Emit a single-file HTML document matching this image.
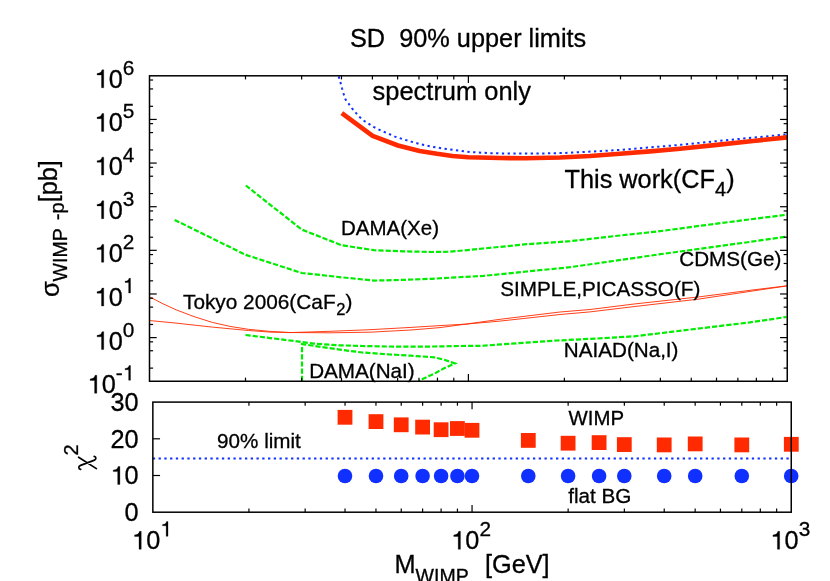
<!DOCTYPE html>
<html><head><meta charset="utf-8"><title>SD 90% upper limits</title>
<style>html,body{margin:0;padding:0;background:#fff;}text{stroke:#000;stroke-width:0.3px;}body{width:830px;height:581px;overflow:hidden;position:relative;font-family:"Liberation Sans",sans-serif;}</style></head>
<body>
<svg width="830" height="581" viewBox="0 0 830 581" style="position:absolute;left:0;top:0;will-change:transform">
<rect width="830" height="581" fill="#fff"/>
<g font-family="Liberation Sans, sans-serif" fill="#000">
<polyline points="338.7,76.5 340.5,82.6 342.0,88.3 343.6,93.8 345.3,99.1 348.8,103.9 352.1,108.4 355.7,112.7 359.6,117.0 364.0,120.8 368.9,123.9 373.5,126.8 380.6,130.4 387.8,133.5 395.0,136.6 402.3,139.0 411.0,141.6 419.6,144.0 431.2,146.6 442.8,148.4 450.0,149.4 470.0,152.0 488.7,153.1 500.0,153.4 520.0,153.6 536.0,153.6 560.0,153.1 572.0,152.6 608.0,150.7 620.0,149.9 644.6,147.9 680.7,144.8 717.0,141.1 753.0,137.6 787.3,134.4" fill="none" stroke="#1030ff" stroke-width="2" stroke-dasharray="2.3 3.46"/>
<polyline points="341.8,113.1 372.6,135.9 398.0,145.5 419.6,150.9 437.0,153.8 452.5,156.0 468.2,157.2 500.0,158.0 525.3,158.3 560.0,157.5 590.0,156.0 620.0,153.8 650.0,151.4 680.0,148.8 716.8,144.9 753.0,141.0 787.3,137.4" fill="none" stroke="#ff2a00" stroke-width="4.6" stroke-linejoin="round"/>
<polyline points="245.8,185.5 301.8,229.6 341.5,245.2 374.0,250.2 403.0,251.3 432.0,252.0 450.0,251.7 483.4,248.5 526.7,244.2 570.1,241.2 613.5,236.2 656.8,231.6 700.2,225.8 743.6,220.2 787.0,214.7" fill="none" stroke="#00ec00" stroke-width="2.2" stroke-dasharray="5.2 2"/>
<polyline points="174.6,219.9 245.8,254.9 301.8,273.0 341.5,277.3 374.0,280.6 403.0,279.9 432.0,278.8 450.0,277.7 483.4,275.9 526.7,271.5 570.0,267.2 613.5,261.0 656.8,254.7 700.2,248.7 743.6,242.8 787.0,236.6" fill="none" stroke="#00ec00" stroke-width="2.2" stroke-dasharray="5.2 2"/>
<polyline points="245.5,335.0 290.0,340.5 314.0,343.6 338.0,345.3 362.0,346.0 386.4,346.5 410.5,346.7 434.6,346.5 458.7,346.0 480.0,345.9 518.6,343.2 557.1,340.5 595.6,338.6 634.2,336.3 672.8,331.7 711.3,327.0 749.9,322.4 786.5,317.0" fill="none" stroke="#00ec00" stroke-width="2.2" stroke-dasharray="5.2 2"/>
<polyline points="302.0,381.0 302.0,344.1 338.2,349.4 362.3,352.5 386.4,354.2 410.5,355.7 434.6,357.3 444.2,359.8 455.0,363.4 444.2,368.2 434.6,373.5 422.5,379.0 419.0,381.0" fill="none" stroke="#00ec00" stroke-width="2.2" stroke-dasharray="5.2 2"/>
<polyline points="150.1,297.1 163.0,303.8 176.1,309.8 194.0,316.6 212.3,322.4 230.0,326.4 248.4,329.3 270.0,331.4 290.0,332.5 330.0,332.8 370.0,332.2 411.0,330.0 440.0,327.6 466.0,324.1 500.0,319.3 560.0,312.0 590.0,309.5 634.0,304.0 698.0,297.0 754.0,289.8 787.0,285.8" fill="none" stroke="#ff2a00" stroke-width="0.9"/>
<polyline points="150.1,320.6 176.1,323.1 212.3,327.1 248.4,330.5 270.0,332.1 290.0,332.6 330.0,331.3 370.0,329.7 411.0,327.4 440.0,325.6 466.0,324.1 500.0,321.1 560.0,314.5 590.0,311.9 634.0,306.6 698.0,299.2 754.0,290.8 787.0,285.9" fill="none" stroke="#ff2a00" stroke-width="0.9"/>
<line x1="245.49" y1="381.25" x2="245.49" y2="377.65" stroke="#000" stroke-width="1.20"/>
<line x1="245.49" y1="75.80" x2="245.49" y2="79.40" stroke="#000" stroke-width="1.20"/>
<line x1="301.64" y1="381.25" x2="301.64" y2="377.65" stroke="#000" stroke-width="1.20"/>
<line x1="301.64" y1="75.80" x2="301.64" y2="79.40" stroke="#000" stroke-width="1.20"/>
<line x1="341.48" y1="381.25" x2="341.48" y2="377.65" stroke="#000" stroke-width="1.20"/>
<line x1="341.48" y1="75.80" x2="341.48" y2="79.40" stroke="#000" stroke-width="1.20"/>
<line x1="372.38" y1="381.25" x2="372.38" y2="377.65" stroke="#000" stroke-width="1.20"/>
<line x1="372.38" y1="75.80" x2="372.38" y2="79.40" stroke="#000" stroke-width="1.20"/>
<line x1="397.63" y1="381.25" x2="397.63" y2="377.65" stroke="#000" stroke-width="1.20"/>
<line x1="397.63" y1="75.80" x2="397.63" y2="79.40" stroke="#000" stroke-width="1.20"/>
<line x1="418.98" y1="381.25" x2="418.98" y2="377.65" stroke="#000" stroke-width="1.20"/>
<line x1="418.98" y1="75.80" x2="418.98" y2="79.40" stroke="#000" stroke-width="1.20"/>
<line x1="437.47" y1="381.25" x2="437.47" y2="377.65" stroke="#000" stroke-width="1.20"/>
<line x1="437.47" y1="75.80" x2="437.47" y2="79.40" stroke="#000" stroke-width="1.20"/>
<line x1="453.78" y1="381.25" x2="453.78" y2="377.65" stroke="#000" stroke-width="1.20"/>
<line x1="453.78" y1="75.80" x2="453.78" y2="79.40" stroke="#000" stroke-width="1.20"/>
<line x1="468.38" y1="381.25" x2="468.38" y2="374.05" stroke="#000" stroke-width="1.20"/>
<line x1="468.38" y1="75.80" x2="468.38" y2="83.00" stroke="#000" stroke-width="1.20"/>
<line x1="564.37" y1="381.25" x2="564.37" y2="377.65" stroke="#000" stroke-width="1.20"/>
<line x1="564.37" y1="75.80" x2="564.37" y2="79.40" stroke="#000" stroke-width="1.20"/>
<line x1="620.52" y1="381.25" x2="620.52" y2="377.65" stroke="#000" stroke-width="1.20"/>
<line x1="620.52" y1="75.80" x2="620.52" y2="79.40" stroke="#000" stroke-width="1.20"/>
<line x1="660.36" y1="381.25" x2="660.36" y2="377.65" stroke="#000" stroke-width="1.20"/>
<line x1="660.36" y1="75.80" x2="660.36" y2="79.40" stroke="#000" stroke-width="1.20"/>
<line x1="691.26" y1="381.25" x2="691.26" y2="377.65" stroke="#000" stroke-width="1.20"/>
<line x1="691.26" y1="75.80" x2="691.26" y2="79.40" stroke="#000" stroke-width="1.20"/>
<line x1="716.51" y1="381.25" x2="716.51" y2="377.65" stroke="#000" stroke-width="1.20"/>
<line x1="716.51" y1="75.80" x2="716.51" y2="79.40" stroke="#000" stroke-width="1.20"/>
<line x1="737.86" y1="381.25" x2="737.86" y2="377.65" stroke="#000" stroke-width="1.20"/>
<line x1="737.86" y1="75.80" x2="737.86" y2="79.40" stroke="#000" stroke-width="1.20"/>
<line x1="756.35" y1="381.25" x2="756.35" y2="377.65" stroke="#000" stroke-width="1.20"/>
<line x1="756.35" y1="75.80" x2="756.35" y2="79.40" stroke="#000" stroke-width="1.20"/>
<line x1="772.66" y1="381.25" x2="772.66" y2="377.65" stroke="#000" stroke-width="1.20"/>
<line x1="772.66" y1="75.80" x2="772.66" y2="79.40" stroke="#000" stroke-width="1.20"/>
<line x1="149.50" y1="368.11" x2="153.10" y2="368.11" stroke="#000" stroke-width="1.20"/>
<line x1="787.25" y1="368.11" x2="783.65" y2="368.11" stroke="#000" stroke-width="1.20"/>
<line x1="149.50" y1="350.75" x2="153.10" y2="350.75" stroke="#000" stroke-width="1.20"/>
<line x1="787.25" y1="350.75" x2="783.65" y2="350.75" stroke="#000" stroke-width="1.20"/>
<line x1="149.50" y1="341.84" x2="153.10" y2="341.84" stroke="#000" stroke-width="1.20"/>
<line x1="787.25" y1="341.84" x2="783.65" y2="341.84" stroke="#000" stroke-width="1.20"/>
<line x1="149.50" y1="337.61" x2="156.70" y2="337.61" stroke="#000" stroke-width="1.20"/>
<line x1="787.25" y1="337.61" x2="780.05" y2="337.61" stroke="#000" stroke-width="1.20"/>
<line x1="149.50" y1="324.48" x2="153.10" y2="324.48" stroke="#000" stroke-width="1.20"/>
<line x1="787.25" y1="324.48" x2="783.65" y2="324.48" stroke="#000" stroke-width="1.20"/>
<line x1="149.50" y1="307.11" x2="153.10" y2="307.11" stroke="#000" stroke-width="1.20"/>
<line x1="787.25" y1="307.11" x2="783.65" y2="307.11" stroke="#000" stroke-width="1.20"/>
<line x1="149.50" y1="298.21" x2="153.10" y2="298.21" stroke="#000" stroke-width="1.20"/>
<line x1="787.25" y1="298.21" x2="783.65" y2="298.21" stroke="#000" stroke-width="1.20"/>
<line x1="149.50" y1="293.98" x2="156.70" y2="293.98" stroke="#000" stroke-width="1.20"/>
<line x1="787.25" y1="293.98" x2="780.05" y2="293.98" stroke="#000" stroke-width="1.20"/>
<line x1="149.50" y1="280.84" x2="153.10" y2="280.84" stroke="#000" stroke-width="1.20"/>
<line x1="787.25" y1="280.84" x2="783.65" y2="280.84" stroke="#000" stroke-width="1.20"/>
<line x1="149.50" y1="263.48" x2="153.10" y2="263.48" stroke="#000" stroke-width="1.20"/>
<line x1="787.25" y1="263.48" x2="783.65" y2="263.48" stroke="#000" stroke-width="1.20"/>
<line x1="149.50" y1="254.57" x2="153.10" y2="254.57" stroke="#000" stroke-width="1.20"/>
<line x1="787.25" y1="254.57" x2="783.65" y2="254.57" stroke="#000" stroke-width="1.20"/>
<line x1="149.50" y1="250.34" x2="156.70" y2="250.34" stroke="#000" stroke-width="1.20"/>
<line x1="787.25" y1="250.34" x2="780.05" y2="250.34" stroke="#000" stroke-width="1.20"/>
<line x1="149.50" y1="237.21" x2="153.10" y2="237.21" stroke="#000" stroke-width="1.20"/>
<line x1="787.25" y1="237.21" x2="783.65" y2="237.21" stroke="#000" stroke-width="1.20"/>
<line x1="149.50" y1="219.84" x2="153.10" y2="219.84" stroke="#000" stroke-width="1.20"/>
<line x1="787.25" y1="219.84" x2="783.65" y2="219.84" stroke="#000" stroke-width="1.20"/>
<line x1="149.50" y1="210.94" x2="153.10" y2="210.94" stroke="#000" stroke-width="1.20"/>
<line x1="787.25" y1="210.94" x2="783.65" y2="210.94" stroke="#000" stroke-width="1.20"/>
<line x1="149.50" y1="206.71" x2="156.70" y2="206.71" stroke="#000" stroke-width="1.20"/>
<line x1="787.25" y1="206.71" x2="780.05" y2="206.71" stroke="#000" stroke-width="1.20"/>
<line x1="149.50" y1="193.57" x2="153.10" y2="193.57" stroke="#000" stroke-width="1.20"/>
<line x1="787.25" y1="193.57" x2="783.65" y2="193.57" stroke="#000" stroke-width="1.20"/>
<line x1="149.50" y1="176.21" x2="153.10" y2="176.21" stroke="#000" stroke-width="1.20"/>
<line x1="787.25" y1="176.21" x2="783.65" y2="176.21" stroke="#000" stroke-width="1.20"/>
<line x1="149.50" y1="167.30" x2="153.10" y2="167.30" stroke="#000" stroke-width="1.20"/>
<line x1="787.25" y1="167.30" x2="783.65" y2="167.30" stroke="#000" stroke-width="1.20"/>
<line x1="149.50" y1="163.07" x2="156.70" y2="163.07" stroke="#000" stroke-width="1.20"/>
<line x1="787.25" y1="163.07" x2="780.05" y2="163.07" stroke="#000" stroke-width="1.20"/>
<line x1="149.50" y1="149.94" x2="153.10" y2="149.94" stroke="#000" stroke-width="1.20"/>
<line x1="787.25" y1="149.94" x2="783.65" y2="149.94" stroke="#000" stroke-width="1.20"/>
<line x1="149.50" y1="132.57" x2="153.10" y2="132.57" stroke="#000" stroke-width="1.20"/>
<line x1="787.25" y1="132.57" x2="783.65" y2="132.57" stroke="#000" stroke-width="1.20"/>
<line x1="149.50" y1="123.66" x2="153.10" y2="123.66" stroke="#000" stroke-width="1.20"/>
<line x1="787.25" y1="123.66" x2="783.65" y2="123.66" stroke="#000" stroke-width="1.20"/>
<line x1="149.50" y1="119.44" x2="156.70" y2="119.44" stroke="#000" stroke-width="1.20"/>
<line x1="787.25" y1="119.44" x2="780.05" y2="119.44" stroke="#000" stroke-width="1.20"/>
<line x1="149.50" y1="106.30" x2="153.10" y2="106.30" stroke="#000" stroke-width="1.20"/>
<line x1="787.25" y1="106.30" x2="783.65" y2="106.30" stroke="#000" stroke-width="1.20"/>
<line x1="149.50" y1="88.94" x2="153.10" y2="88.94" stroke="#000" stroke-width="1.20"/>
<line x1="787.25" y1="88.94" x2="783.65" y2="88.94" stroke="#000" stroke-width="1.20"/>
<line x1="149.50" y1="80.03" x2="153.10" y2="80.03" stroke="#000" stroke-width="1.20"/>
<line x1="787.25" y1="80.03" x2="783.65" y2="80.03" stroke="#000" stroke-width="1.20"/>
<rect x="149.50" y="75.80" width="637.75" height="305.45" fill="none" stroke="#000" stroke-width="1.5"/>
<line x1="152.8" y1="458.6" x2="791.2" y2="458.6" stroke="#1030ff" stroke-width="2" stroke-dasharray="2.3 3.46"/>
<rect x="337.6" y="409.9" width="14.8" height="14.8" fill="#ff2a00"/>
<circle cx="345.0" cy="476" r="7.3" fill="#1030ff"/>
<rect x="368.6" y="414.2" width="14.8" height="14.8" fill="#ff2a00"/>
<circle cx="376.0" cy="476" r="7.3" fill="#1030ff"/>
<rect x="393.8" y="417.4" width="14.8" height="14.8" fill="#ff2a00"/>
<circle cx="401.2" cy="476" r="7.3" fill="#1030ff"/>
<rect x="415.2" y="419.7" width="14.8" height="14.8" fill="#ff2a00"/>
<circle cx="422.6" cy="476" r="7.3" fill="#1030ff"/>
<rect x="433.7" y="422.3" width="14.8" height="14.8" fill="#ff2a00"/>
<circle cx="441.1" cy="476" r="7.3" fill="#1030ff"/>
<rect x="450.0" y="421.1" width="14.8" height="14.8" fill="#ff2a00"/>
<circle cx="457.4" cy="476" r="7.3" fill="#1030ff"/>
<rect x="464.6" y="422.9" width="14.8" height="14.8" fill="#ff2a00"/>
<circle cx="472.0" cy="476" r="7.3" fill="#1030ff"/>
<rect x="520.9" y="433.0" width="14.8" height="14.8" fill="#ff2a00"/>
<circle cx="528.3" cy="476" r="7.3" fill="#1030ff"/>
<rect x="560.7" y="435.8" width="14.8" height="14.8" fill="#ff2a00"/>
<circle cx="568.1" cy="476" r="7.3" fill="#1030ff"/>
<rect x="591.7" y="435.2" width="14.8" height="14.8" fill="#ff2a00"/>
<circle cx="599.1" cy="476" r="7.3" fill="#1030ff"/>
<rect x="616.9" y="437.2" width="14.8" height="14.8" fill="#ff2a00"/>
<circle cx="624.3" cy="476" r="7.3" fill="#1030ff"/>
<rect x="656.8" y="437.5" width="14.8" height="14.8" fill="#ff2a00"/>
<circle cx="664.2" cy="476" r="7.3" fill="#1030ff"/>
<rect x="687.8" y="436.5" width="14.8" height="14.8" fill="#ff2a00"/>
<circle cx="695.2" cy="476" r="7.3" fill="#1030ff"/>
<rect x="734.4" y="437.5" width="14.8" height="14.8" fill="#ff2a00"/>
<circle cx="741.8" cy="476" r="7.3" fill="#1030ff"/>
<rect x="783.9" y="436.9" width="14.8" height="14.8" fill="#ff2a00"/>
<circle cx="791.2" cy="476" r="7.3" fill="#1030ff"/>
<line x1="248.94" y1="512.20" x2="248.94" y2="508.60" stroke="#000" stroke-width="1.20"/>
<line x1="248.94" y1="402.10" x2="248.94" y2="405.70" stroke="#000" stroke-width="1.20"/>
<line x1="305.15" y1="512.20" x2="305.15" y2="508.60" stroke="#000" stroke-width="1.20"/>
<line x1="305.15" y1="402.10" x2="305.15" y2="405.70" stroke="#000" stroke-width="1.20"/>
<line x1="345.03" y1="512.20" x2="345.03" y2="508.60" stroke="#000" stroke-width="1.20"/>
<line x1="345.03" y1="402.10" x2="345.03" y2="405.70" stroke="#000" stroke-width="1.20"/>
<line x1="375.96" y1="512.20" x2="375.96" y2="508.60" stroke="#000" stroke-width="1.20"/>
<line x1="375.96" y1="402.10" x2="375.96" y2="405.70" stroke="#000" stroke-width="1.20"/>
<line x1="401.24" y1="512.20" x2="401.24" y2="508.60" stroke="#000" stroke-width="1.20"/>
<line x1="401.24" y1="402.10" x2="401.24" y2="405.70" stroke="#000" stroke-width="1.20"/>
<line x1="422.61" y1="512.20" x2="422.61" y2="508.60" stroke="#000" stroke-width="1.20"/>
<line x1="422.61" y1="402.10" x2="422.61" y2="405.70" stroke="#000" stroke-width="1.20"/>
<line x1="441.12" y1="512.20" x2="441.12" y2="508.60" stroke="#000" stroke-width="1.20"/>
<line x1="441.12" y1="402.10" x2="441.12" y2="405.70" stroke="#000" stroke-width="1.20"/>
<line x1="457.44" y1="512.20" x2="457.44" y2="508.60" stroke="#000" stroke-width="1.20"/>
<line x1="457.44" y1="402.10" x2="457.44" y2="405.70" stroke="#000" stroke-width="1.20"/>
<line x1="472.05" y1="512.20" x2="472.05" y2="505.00" stroke="#000" stroke-width="1.20"/>
<line x1="472.05" y1="402.10" x2="472.05" y2="409.30" stroke="#000" stroke-width="1.20"/>
<line x1="568.14" y1="512.20" x2="568.14" y2="508.60" stroke="#000" stroke-width="1.20"/>
<line x1="568.14" y1="402.10" x2="568.14" y2="405.70" stroke="#000" stroke-width="1.20"/>
<line x1="624.35" y1="512.20" x2="624.35" y2="508.60" stroke="#000" stroke-width="1.20"/>
<line x1="624.35" y1="402.10" x2="624.35" y2="405.70" stroke="#000" stroke-width="1.20"/>
<line x1="664.23" y1="512.20" x2="664.23" y2="508.60" stroke="#000" stroke-width="1.20"/>
<line x1="664.23" y1="402.10" x2="664.23" y2="405.70" stroke="#000" stroke-width="1.20"/>
<line x1="695.16" y1="512.20" x2="695.16" y2="508.60" stroke="#000" stroke-width="1.20"/>
<line x1="695.16" y1="402.10" x2="695.16" y2="405.70" stroke="#000" stroke-width="1.20"/>
<line x1="720.44" y1="512.20" x2="720.44" y2="508.60" stroke="#000" stroke-width="1.20"/>
<line x1="720.44" y1="402.10" x2="720.44" y2="405.70" stroke="#000" stroke-width="1.20"/>
<line x1="741.81" y1="512.20" x2="741.81" y2="508.60" stroke="#000" stroke-width="1.20"/>
<line x1="741.81" y1="402.10" x2="741.81" y2="405.70" stroke="#000" stroke-width="1.20"/>
<line x1="760.32" y1="512.20" x2="760.32" y2="508.60" stroke="#000" stroke-width="1.20"/>
<line x1="760.32" y1="402.10" x2="760.32" y2="405.70" stroke="#000" stroke-width="1.20"/>
<line x1="776.64" y1="512.20" x2="776.64" y2="508.60" stroke="#000" stroke-width="1.20"/>
<line x1="776.64" y1="402.10" x2="776.64" y2="405.70" stroke="#000" stroke-width="1.20"/>
<line x1="152.85" y1="475.50" x2="160.05" y2="475.50" stroke="#000" stroke-width="1.20"/>
<line x1="152.85" y1="438.80" x2="160.05" y2="438.80" stroke="#000" stroke-width="1.20"/>
<rect x="152.85" y="402.10" width="638.40" height="110.10" fill="none" stroke="#000" stroke-width="1.5"/>
<text x="350.0" y="47.0" font-size="25.3" text-anchor="start" xml:space="preserve" >SD  90% upper limits</text>
<path d="M94.59,393.25 L94.59,380.47 L90.13,380.47 L90.13,378.96 C92.94,378.78 94.59,377.82 95.09,375.31 L96.81,375.31 L96.81,393.25 Z" fill="#000" stroke="#000" stroke-width="0.3"/>
<text x="101.74" y="393.2" font-size="25.3">0</text>
<text x="115.81" y="380.2" font-size="20.8">-</text>
<path d="M128.66,380.25 L128.66,369.75 L125.00,369.75 L125.00,368.50 C127.31,368.35 128.66,367.56 129.08,365.50 L130.49,365.50 L130.49,380.25 Z" fill="#000" stroke="#000" stroke-width="0.3"/>
<path d="M101.51,349.61 L101.51,336.84 L97.06,336.84 L97.06,335.32 C99.87,335.14 101.51,334.18 102.02,331.68 L103.74,331.68 L103.74,349.61 Z" fill="#000" stroke="#000" stroke-width="0.3"/>
<text x="108.67" y="349.6" font-size="25.3">0</text>
<text x="122.74" y="336.6" font-size="20.8">0</text>
<path d="M101.51,305.98 L101.51,293.20 L97.06,293.20 L97.06,291.68 C99.87,291.51 101.51,290.55 102.02,288.04 L103.74,288.04 L103.74,305.98 Z" fill="#000" stroke="#000" stroke-width="0.3"/>
<text x="108.67" y="306.0" font-size="25.3">0</text>
<path d="M128.66,292.98 L128.66,282.47 L125.00,282.47 L125.00,281.23 C127.31,281.08 128.66,280.29 129.08,278.23 L130.49,278.23 L130.49,292.98 Z" fill="#000" stroke="#000" stroke-width="0.3"/>
<path d="M101.51,262.34 L101.51,249.57 L97.06,249.57 L97.06,248.05 C99.87,247.87 101.51,246.91 102.02,244.41 L103.74,244.41 L103.74,262.34 Z" fill="#000" stroke="#000" stroke-width="0.3"/>
<text x="108.67" y="262.3" font-size="25.3">0</text>
<text x="122.74" y="249.3" font-size="20.8">2</text>
<path d="M101.51,218.71 L101.51,205.93 L97.06,205.93 L97.06,204.41 C99.87,204.24 101.51,203.27 102.02,200.77 L103.74,200.77 L103.74,218.71 Z" fill="#000" stroke="#000" stroke-width="0.3"/>
<text x="108.67" y="218.7" font-size="25.3">0</text>
<text x="122.74" y="205.7" font-size="20.8">3</text>
<path d="M101.51,175.07 L101.51,162.29 L97.06,162.29 L97.06,160.78 C99.87,160.60 101.51,159.64 102.02,157.13 L103.74,157.13 L103.74,175.07 Z" fill="#000" stroke="#000" stroke-width="0.3"/>
<text x="108.67" y="175.1" font-size="25.3">0</text>
<text x="122.74" y="162.1" font-size="20.8">4</text>
<path d="M101.51,131.44 L101.51,118.66 L97.06,118.66 L97.06,117.14 C99.87,116.96 101.51,116.00 102.02,113.50 L103.74,113.50 L103.74,131.44 Z" fill="#000" stroke="#000" stroke-width="0.3"/>
<text x="108.67" y="131.4" font-size="25.3">0</text>
<text x="122.74" y="118.4" font-size="20.8">5</text>
<path d="M101.51,87.80 L101.51,75.02 L97.06,75.02 L97.06,73.51 C99.87,73.33 101.51,72.37 102.02,69.86 L103.74,69.86 L103.74,87.80 Z" fill="#000" stroke="#000" stroke-width="0.3"/>
<text x="108.67" y="87.8" font-size="25.3">0</text>
<text x="122.74" y="74.8" font-size="20.8">6</text>
<text x="138.6" y="521.1" font-size="25.3" text-anchor="end" xml:space="preserve" >0</text>
<text x="138.6" y="484.4" font-size="25.3" text-anchor="end" xml:space="preserve" >0</text>
<path d="M117.68,484.40 L117.68,471.62 L113.22,471.62 L113.22,470.11 C116.03,469.93 117.68,468.97 118.18,466.46 L119.90,466.46 L119.90,484.40 Z" fill="#000" stroke="#000" stroke-width="0.3"/>
<text x="138.6" y="447.7" font-size="25.3" text-anchor="end" xml:space="preserve" >20</text>
<text x="138.6" y="411.0" font-size="25.3" text-anchor="end" xml:space="preserve" >30</text>
<path d="M139.01,549.30 L139.01,536.52 L134.56,536.52 L134.56,535.01 C137.37,534.83 139.01,533.87 139.52,531.36 L141.24,531.36 L141.24,549.30 Z" fill="#000" stroke="#000" stroke-width="0.3"/>
<text x="146.17" y="549.3" font-size="25.3">0</text>
<path d="M166.16,536.30 L166.16,525.80 L162.50,525.80 L162.50,524.55 C164.81,524.40 166.16,523.61 166.58,521.55 L167.99,521.55 L167.99,536.30 Z" fill="#000" stroke="#000" stroke-width="0.3"/>
<path d="M458.21,549.30 L458.21,536.52 L453.76,536.52 L453.76,535.01 C456.57,534.83 458.21,533.87 458.72,531.36 L460.44,531.36 L460.44,549.30 Z" fill="#000" stroke="#000" stroke-width="0.3"/>
<text x="465.37" y="549.3" font-size="25.3">0</text>
<text x="479.43" y="536.3" font-size="20.8">2</text>
<path d="M777.41,549.30 L777.41,536.52 L772.96,536.52 L772.96,535.01 C775.77,534.83 777.41,533.87 777.92,531.36 L779.64,531.36 L779.64,549.30 Z" fill="#000" stroke="#000" stroke-width="0.3"/>
<text x="784.57" y="549.3" font-size="25.3">0</text>
<text x="798.63" y="536.3" font-size="20.8">3</text>
<text x="372.6" y="99.6" font-size="25.45" text-anchor="start" xml:space="preserve" >spectrum only</text>
<text x="564.5" y="188.3" font-size="25.3">This work(CF<tspan font-size="20" dy="7.7">4</tspan><tspan dy="-7.7" dx="0.3">)</tspan></text>
<text x="341.0" y="235.3" font-size="20.5" text-anchor="start" xml:space="preserve" >DAMA(Xe)</text>
<text x="679.3" y="265.6" font-size="20.65" text-anchor="start" xml:space="preserve" >CDMS(Ge)</text>
<text x="500.3" y="295.7" font-size="20.7" text-anchor="start" xml:space="preserve" >SIMPLE,PICASSO(F)</text>
<text x="183" y="309.3" font-size="20.8">Tokyo 2006(CaF<tspan font-size="16.5" dy="5.7" dx="0.6">2</tspan><tspan dy="-5.7" dx="0">)</tspan></text>
<text x="309.2" y="377.7" font-size="20.65" text-anchor="start" xml:space="preserve" >DAMA(NaI)</text>
<text x="563.8" y="356.5" font-size="20.65" text-anchor="start" xml:space="preserve" >NAIAD(Na,I)</text>
<text x="568.5" y="425.0" font-size="20.4" text-anchor="start" xml:space="preserve" >WIMP</text>
<text x="568.3" y="502.6" font-size="20.65" text-anchor="start" xml:space="preserve" >flat BG</text>
<text x="217.1" y="447.8" font-size="20.65" text-anchor="start" xml:space="preserve" >90% limit</text>
<text x="394.5" y="573" font-size="25.3" xml:space="preserve">M<tspan font-size="19.5" dy="9.6">WIMP</tspan><tspan dy="-9.6" dx="16.3">[GeV]</tspan></text>
<g transform="translate(59,297) rotate(-90)"><text x="0" y="0" font-size="25.3" xml:space="preserve">σ<tspan font-size="19.5" dy="8">WIMP</tspan><tspan font-size="20" dy="-2.6" dx="2.6"> -p</tspan><tspan font-size="25.3" dy="-7.6">[pb]</tspan></text></g>
<g transform="translate(91,470) rotate(-90)"><path d="M0.6,-10.3 C1.0,-12.6 3.6,-13.0 4.6,-10.4 L9.6,2.9 C10.6,5.6 13.1,5.4 13.6,3.2 M12.8,-12.4 L1.4,5.4" fill="none" stroke="#000" stroke-width="1.7" stroke-linecap="round"/><text x="14.5" y="-13" font-size="20">2</text></g>
</g></svg>
</body></html>
